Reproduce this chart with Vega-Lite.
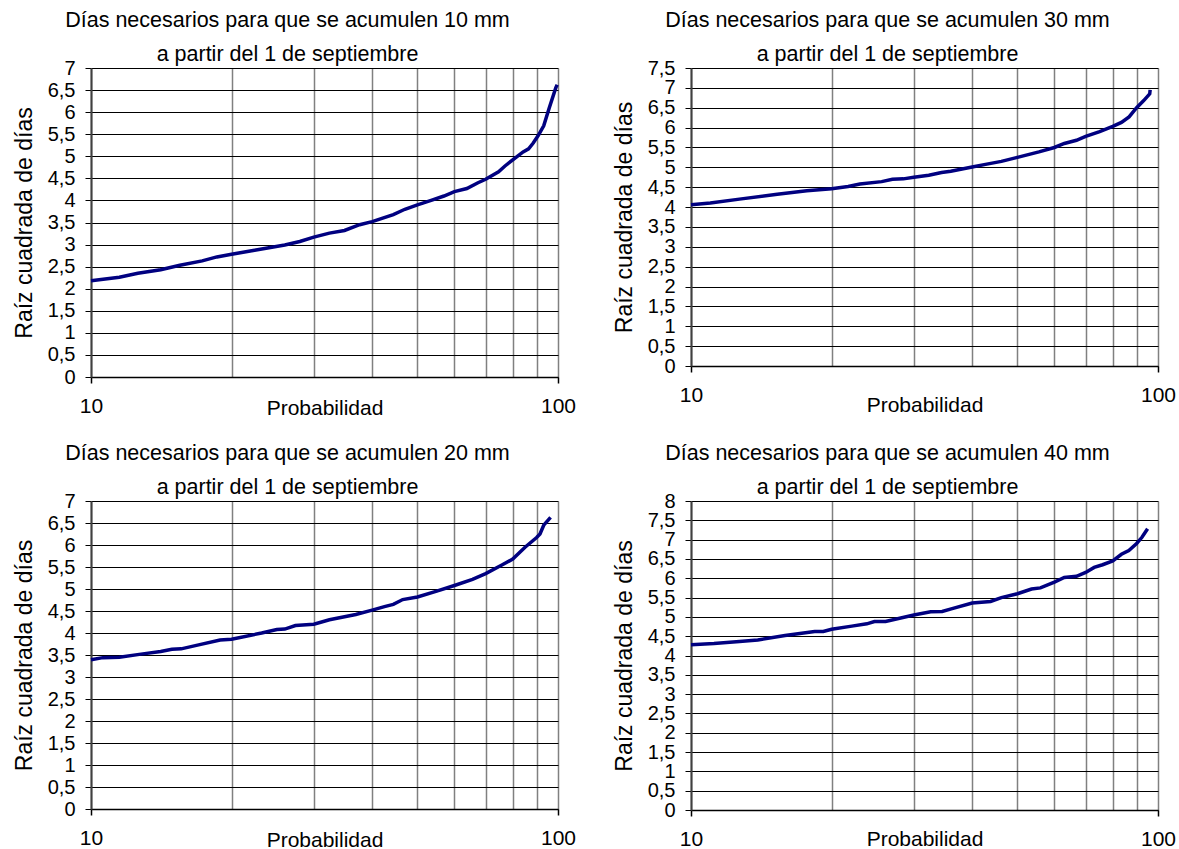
{
  "$schema": "https://vega.github.io/schema/vega-lite/v6.json",
  "background": "white",
  "padding": {"left": 13, "top": 9, "right": 0, "bottom": 0},
  "config": {
    "font": "Liberation Sans",
    "view": {"stroke": null},
    "title": {"fontSize": 21.5, "fontWeight": "normal", "lineHeight": 34, "anchor": "middle", "frame": "group", "dx": -37, "offset": -7, "color": "#000000"},
    "axisX": {"grid": true, "gridColor": "#808080", "gridWidth": 1.5, "gridOpacity": 1, "domainColor": "#000000", "domainWidth": 1.5, "tickColor": "#000000", "tickSize": 6, "tickWidth": 1.5, "labelFlush": false, "labelOverlap": false, "labelPadding": 12, "labelFontSize": 21, "labelColor": "#000000", "titleFontSize": 21, "titleFontWeight": "normal", "titleColor": "#000000", "titleBaseline": "top"},
    "axisY": {"grid": true, "gridColor": "#000000", "gridWidth": 1, "gridOpacity": 1, "domainColor": "#404040", "domainWidth": 2, "tickColor": "#000000", "tickSize": 6, "labelOverlap": false, "labelPadding": 10, "labelFontSize": 20, "labelColor": "#000000", "labelBaseline": "middle", "titleFontSize": 23, "titleFontWeight": "normal", "titleColor": "#000000", "titlePadding": 11}
  },
  "concat": [
    {
      "width": 467, "height": 309,
      "title": {"text": ["Días necesarios para que se acumulen 10 mm", "a partir del 1 de septiembre"]},
      "data": {"values": [
        {"p": 10, "r": 2.18}, {"p": 11.5, "r": 2.26}, {"p": 12.6, "r": 2.35}, {"p": 14.1, "r": 2.43}, {"p": 15.5, "r": 2.53}, {"p": 17.3, "r": 2.63}, {"p": 18.6, "r": 2.72}, {"p": 20, "r": 2.78}, {"p": 22.4, "r": 2.87}, {"p": 26, "r": 2.99}, {"p": 28, "r": 3.07}, {"p": 30, "r": 3.17}, {"p": 32.4, "r": 3.26}, {"p": 34.9, "r": 3.32}, {"p": 37.6, "r": 3.45}, {"p": 40, "r": 3.52}, {"p": 44.4, "r": 3.68}, {"p": 47, "r": 3.8}, {"p": 50, "r": 3.9}, {"p": 53.5, "r": 4.0}, {"p": 57, "r": 4.1}, {"p": 60, "r": 4.2}, {"p": 63.8, "r": 4.27}, {"p": 67.4, "r": 4.4}, {"p": 70, "r": 4.48}, {"p": 74.6, "r": 4.65}, {"p": 77, "r": 4.78}, {"p": 80, "r": 4.92}, {"p": 84.2, "r": 5.1}, {"p": 86.5, "r": 5.17}, {"p": 88.5, "r": 5.3}, {"p": 90.7, "r": 5.47}, {"p": 93.2, "r": 5.69}, {"p": 95.8, "r": 6.1}, {"p": 98.9, "r": 6.55}, {"p": 99.6, "r": 6.62}
      ]},
      "mark": {"type": "line", "color": "#000080", "strokeWidth": 3.5},
      "encoding": {
        "x": {"field": "p", "type": "quantitative", "scale": {"type": "log", "domain": [10, 100], "nice": false},
          "axis": {"values": [10, 20, 30, 40, 50, 60, 70, 80, 90, 100], "title": "Probabilidad", "titleY": 20,
            "labelExpr": "(datum.value == 10 || datum.value == 100) ? format(datum.value, 'd') : ''",
            "tickOpacity": {"condition": {"test": "datum.value == 10 || datum.value == 100", "value": 1}, "value": 0}}},
        "y": {"field": "r", "type": "quantitative", "scale": {"domain": [0, 7], "nice": false},
          "axis": {"values": [0, 0.5, 1, 1.5, 2, 2.5, 3, 3.5, 4, 4.5, 5, 5.5, 6, 6.5, 7], "title": "Raíz cuadrada de días",
            "labelExpr": "replace(format(datum.value, '~g'), '.', ',')"}}
      }
    },
    {
      "width": 467, "height": 298,
      "title": {"text": ["Días necesarios para que se acumulen 30 mm", "a partir del 1 de septiembre"]},
      "data": {"values": [
        {"p": 10, "r": 4.06}, {"p": 11, "r": 4.1}, {"p": 12.7, "r": 4.2}, {"p": 15.3, "r": 4.32}, {"p": 17.7, "r": 4.41}, {"p": 20, "r": 4.46}, {"p": 21.7, "r": 4.52}, {"p": 23, "r": 4.58}, {"p": 25.6, "r": 4.64}, {"p": 27, "r": 4.7}, {"p": 28.5, "r": 4.71}, {"p": 30, "r": 4.75}, {"p": 32.3, "r": 4.8}, {"p": 34.4, "r": 4.87}, {"p": 36, "r": 4.9}, {"p": 40, "r": 5.01}, {"p": 43, "r": 5.08}, {"p": 46.2, "r": 5.15}, {"p": 50, "r": 5.25}, {"p": 55.6, "r": 5.39}, {"p": 60, "r": 5.5}, {"p": 63, "r": 5.6}, {"p": 66.9, "r": 5.68}, {"p": 70, "r": 5.78}, {"p": 75, "r": 5.9}, {"p": 80, "r": 6.03}, {"p": 83.5, "r": 6.13}, {"p": 86.7, "r": 6.27}, {"p": 90, "r": 6.5}, {"p": 93.2, "r": 6.68}, {"p": 96, "r": 6.85}, {"p": 96.2, "r": 6.95}
      ]},
      "mark": {"type": "line", "color": "#000080", "strokeWidth": 3.5},
      "encoding": {
        "x": {"field": "p", "type": "quantitative", "scale": {"type": "log", "domain": [10, 100], "nice": false},
          "axis": {"values": [10, 20, 30, 40, 50, 60, 70, 80, 90, 100], "title": "Probabilidad", "titleY": 28,
            "labelExpr": "(datum.value == 10 || datum.value == 100) ? format(datum.value, 'd') : ''",
            "tickOpacity": {"condition": {"test": "datum.value == 10 || datum.value == 100", "value": 1}, "value": 0}}},
        "y": {"field": "r", "type": "quantitative", "scale": {"domain": [0, 7.5], "nice": false},
          "axis": {"values": [0, 0.5, 1, 1.5, 2, 2.5, 3, 3.5, 4, 4.5, 5, 5.5, 6, 6.5, 7, 7.5], "title": "Raíz cuadrada de días",
            "labelExpr": "replace(format(datum.value, '~g'), '.', ',')"}}
      }
    },
    {
      "width": 467, "height": 308,
      "title": {"text": ["Días necesarios para que se acumulen 20 mm", "a partir del 1 de septiembre"]},
      "data": {"values": [
        {"p": 10, "r": 3.39}, {"p": 10.6, "r": 3.44}, {"p": 11.5, "r": 3.45}, {"p": 12.8, "r": 3.52}, {"p": 14.1, "r": 3.58}, {"p": 14.9, "r": 3.63}, {"p": 15.6, "r": 3.64}, {"p": 17, "r": 3.73}, {"p": 18.9, "r": 3.84}, {"p": 20, "r": 3.86}, {"p": 23.2, "r": 4.0}, {"p": 25, "r": 4.08}, {"p": 26, "r": 4.09}, {"p": 27.4, "r": 4.17}, {"p": 30, "r": 4.2}, {"p": 32.4, "r": 4.3}, {"p": 36.9, "r": 4.42}, {"p": 40, "r": 4.52}, {"p": 42.5, "r": 4.6}, {"p": 44.4, "r": 4.65}, {"p": 46.5, "r": 4.76}, {"p": 50, "r": 4.82}, {"p": 55, "r": 4.95}, {"p": 60, "r": 5.08}, {"p": 65.6, "r": 5.22}, {"p": 70, "r": 5.35}, {"p": 76, "r": 5.55}, {"p": 80, "r": 5.68}, {"p": 85, "r": 5.95}, {"p": 90, "r": 6.17}, {"p": 91.5, "r": 6.25}, {"p": 93.2, "r": 6.45}, {"p": 96.4, "r": 6.63}
      ]},
      "mark": {"type": "line", "color": "#000080", "strokeWidth": 3.5},
      "encoding": {
        "x": {"field": "p", "type": "quantitative", "scale": {"type": "log", "domain": [10, 100], "nice": false},
          "axis": {"values": [10, 20, 30, 40, 50, 60, 70, 80, 90, 100], "title": "Probabilidad", "titleY": 20,
            "labelExpr": "(datum.value == 10 || datum.value == 100) ? format(datum.value, 'd') : ''",
            "tickOpacity": {"condition": {"test": "datum.value == 10 || datum.value == 100", "value": 1}, "value": 0}}},
        "y": {"field": "r", "type": "quantitative", "scale": {"domain": [0, 7], "nice": false},
          "axis": {"values": [0, 0.5, 1, 1.5, 2, 2.5, 3, 3.5, 4, 4.5, 5, 5.5, 6, 6.5, 7], "title": "Raíz cuadrada de días",
            "labelExpr": "replace(format(datum.value, '~g'), '.', ',')"}}
      }
    },
    {
      "width": 467, "height": 309,
      "title": {"text": ["Días necesarios para que se acumulen 40 mm", "a partir del 1 de septiembre"]},
      "data": {"values": [
        {"p": 10, "r": 4.28}, {"p": 11.2, "r": 4.31}, {"p": 12.7, "r": 4.36}, {"p": 13.9, "r": 4.4}, {"p": 15.9, "r": 4.52}, {"p": 17.1, "r": 4.57}, {"p": 18.4, "r": 4.62}, {"p": 19.2, "r": 4.62}, {"p": 20, "r": 4.68}, {"p": 22.1, "r": 4.76}, {"p": 23.8, "r": 4.82}, {"p": 24.7, "r": 4.88}, {"p": 26.1, "r": 4.88}, {"p": 30, "r": 5.05}, {"p": 32.6, "r": 5.13}, {"p": 34.5, "r": 5.14}, {"p": 36.4, "r": 5.22}, {"p": 40, "r": 5.36}, {"p": 43.8, "r": 5.4}, {"p": 46.2, "r": 5.5}, {"p": 50, "r": 5.6}, {"p": 53.6, "r": 5.72}, {"p": 56, "r": 5.75}, {"p": 60, "r": 5.9}, {"p": 63, "r": 6.02}, {"p": 66.9, "r": 6.05}, {"p": 70, "r": 6.15}, {"p": 73, "r": 6.28}, {"p": 76.1, "r": 6.35}, {"p": 80, "r": 6.45}, {"p": 83.5, "r": 6.62}, {"p": 86.6, "r": 6.72}, {"p": 90, "r": 6.9}, {"p": 92.4, "r": 7.06}, {"p": 95, "r": 7.28}
      ]},
      "mark": {"type": "line", "color": "#000080", "strokeWidth": 3.5},
      "encoding": {
        "x": {"field": "p", "type": "quantitative", "scale": {"type": "log", "domain": [10, 100], "nice": false},
          "axis": {"values": [10, 20, 30, 40, 50, 60, 70, 80, 90, 100], "title": "Probabilidad", "titleY": 18,
            "labelExpr": "(datum.value == 10 || datum.value == 100) ? format(datum.value, 'd') : ''",
            "tickOpacity": {"condition": {"test": "datum.value == 10 || datum.value == 100", "value": 1}, "value": 0}}},
        "y": {"field": "r", "type": "quantitative", "scale": {"domain": [0, 8], "nice": false},
          "axis": {"values": [0, 0.5, 1, 1.5, 2, 2.5, 3, 3.5, 4, 4.5, 5, 5.5, 6, 6.5, 7, 7.5, 8], "title": "Raíz cuadrada de días",
            "labelExpr": "replace(format(datum.value, '~g'), '.', ',')"}}
      }
    }
  ],
  "columns": 2,
  "bounds": "flush",
  "spacing": {"row": 124, "column": 133}
}
